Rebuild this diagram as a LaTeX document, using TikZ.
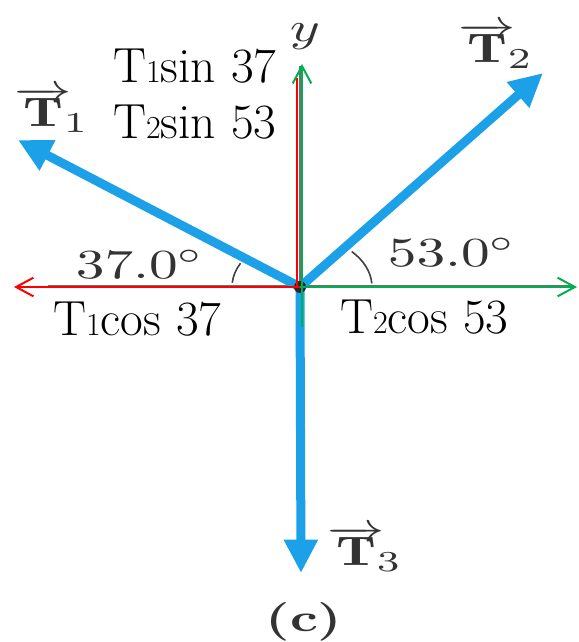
\documentclass[tikz,border=0pt]{standalone}
\usepackage{graphicx}
\usepackage{fontspec}
\usetikzlibrary{arrows.meta}
\definecolor{fblue}{RGB}{28,160,232}
\definecolor{fred}{RGB}{255,0,0}
\definecolor{fgreen}{RGB}{0,176,80}
\definecolor{axgray}{RGB}{110,110,110}
\newcommand{\sdig}[1]{{\fontsize{24pt}{24pt}\selectfont #1}}
\newcommand{\wide}[1]{\scalebox{4.3}[3.1]{#1}}
\begin{document}
\begin{tikzpicture}[x=0.75pt,y=-0.75pt,
  force/.style={draw=fblue, line width=6.75pt, -{Triangle[length=25pt,width=24pt]}},
  comp/.style={line width=1.5pt, -{Straight Barb[length=13pt,width=14pt]}},
  axisline/.style={draw=axgray, line width=1.5pt},
  anglearc/.style={draw=black!75, line width=1.2pt},
  note/.style={font=\fontsize{37pt}{37pt}\selectfont, inner sep=0pt, anchor=base west},
  book/.style={text=black!80, inner sep=0pt, font=\normalsize}]
\useasboundingbox (0,0) rectangle (578,642);
% key points
\coordinate (O) at (300,287);
\coordinate (T1tip) at (18,140);
\coordinate (T2tip) at (543,73);
\coordinate (T3tip) at (301,573);
\coordinate (xL) at (14,287);
\coordinate (xR) at (577,287);
\coordinate (xG) at (48,286);
\coordinate (xGR) at (570,286);
\coordinate (yG) at (300,66);
\coordinate (rv0) at (297,287);
\coordinate (rv1) at (297,78);
\coordinate (gv0) at (302,327);
\coordinate (gv1) at (302,64);
% gray axes
\draw[axisline] (xG) -- (xGR);
\draw[axisline] (O) -- (yG);
% forces
\draw[force] (O) -- (T1tip);
\draw[force] (O) -- (T2tip);
\draw[force] (O) -- (T3tip);
\fill[black!85] (O) circle[radius=6];
% angle arcs
\draw[anglearc] ([shift={(-175:68 and 49)}]O) arc[start angle=-175, end angle=-151, x radius=68, y radius=49];
\draw[anglearc] ([shift={(-4:72 and 51)}]O) arc[start angle=-4, end angle=-44, x radius=72, y radius=51];
% components
\draw[comp, fred] (O) -- (xL);
\draw[fred, line width=1.5pt] (rv0) -- (rv1);
\draw[comp, fgreen] (O) -- (xR);
\draw[comp, fgreen] (gv0) -- (gv1);
% textbook labels
\node[book] (ylab) at (305,37) {\wide{$y$}};
\node[book] (lT1) at (52,110) {\wide{$\overrightarrow{\mathbf{T}}_{\!1}$}};
\node[book] (lT2) at (496,46) {\wide{$\overrightarrow{\mathbf{T}}_{\!2}$}};
\node[book] (lT3) at (365,549) {\wide{$\overrightarrow{\mathbf{T}}_{\!3}$}};
\node[book] (a37) at (140,264) {\wide{$37.0^\circ$}};
\node[book] (a53) at (452,252) {\wide{$53.0^\circ$}};
\node[book] (cap) at (304,622) {\scalebox{4.1}[2.9]{\textbf{(c)}}};
% component notes
\node[note] (s1) at (113,83) {T\sdig{1}sin 37};
\node[note] (s2) at (113,138) {T\sdig{2}sin 53};
\node[note] (c1) at (53,335) {T\sdig{1}cos 37};
\node[note] (c2) at (340,333) {T\sdig{2}cos 53};
\end{tikzpicture}
\end{document}
